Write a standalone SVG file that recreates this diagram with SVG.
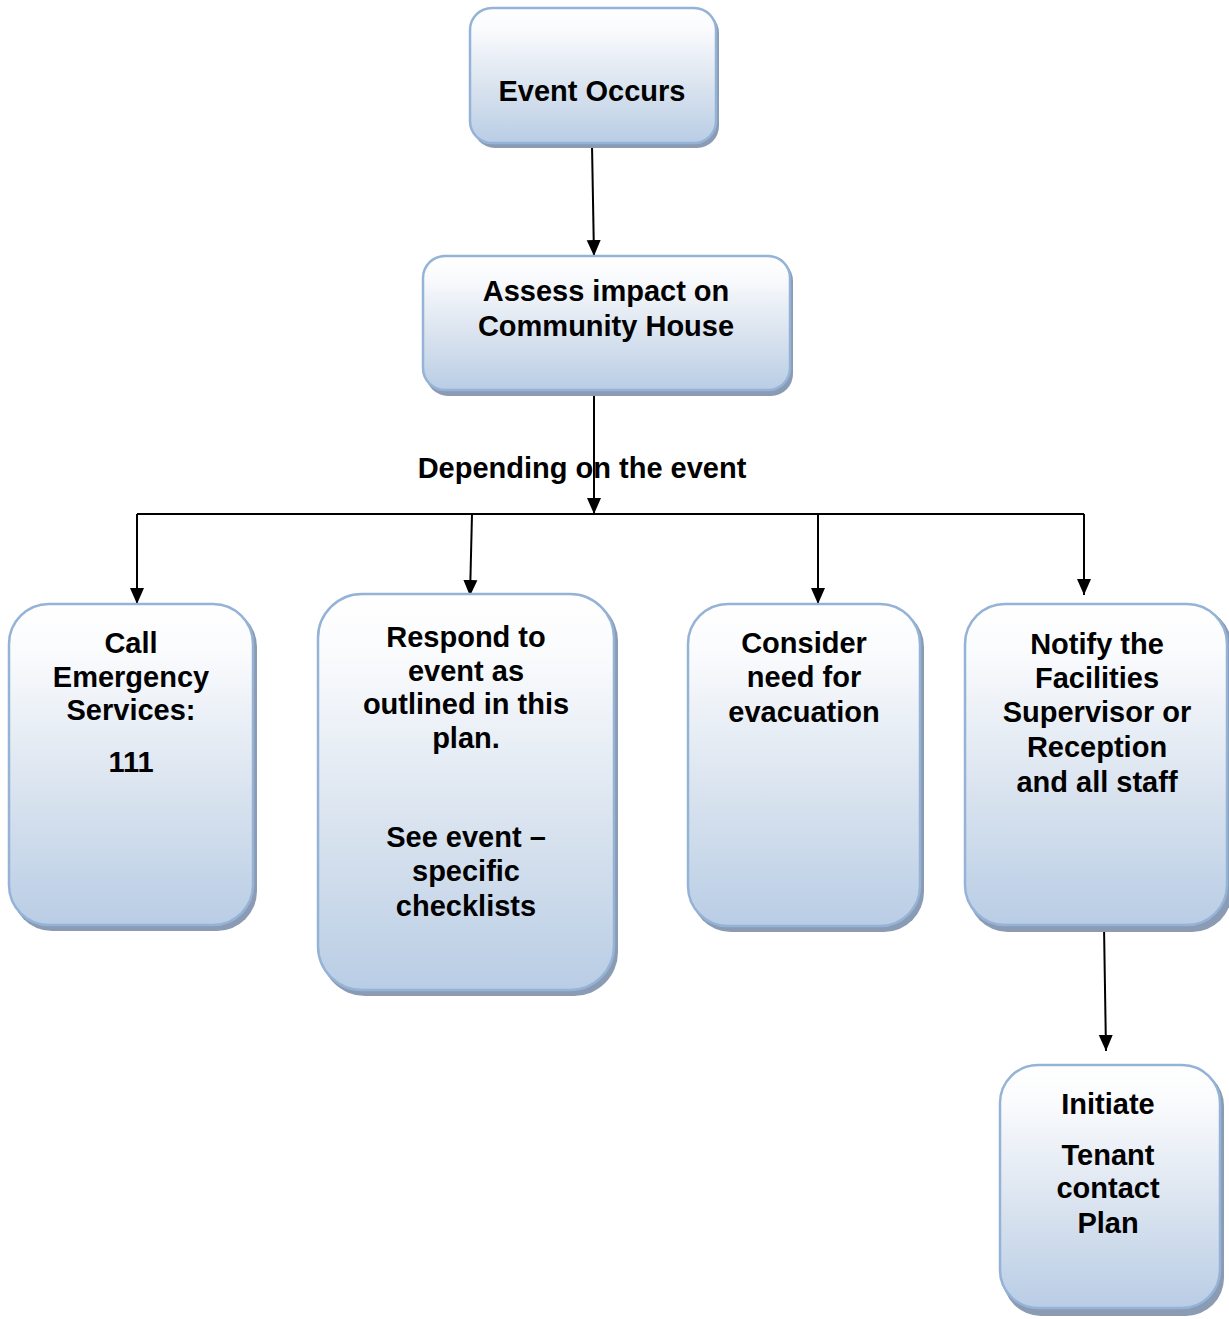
<svg xmlns="http://www.w3.org/2000/svg" width="1229" height="1319" viewBox="0 0 1229 1319">
<defs>
<linearGradient id="g" x1="0" y1="0" x2="0" y2="1">
<stop offset="0" stop-color="#ffffff"/>
<stop offset="0.15" stop-color="#fafbfd"/>
<stop offset="0.55" stop-color="#dce5f0"/>
<stop offset="1" stop-color="#b9cde5"/>
</linearGradient>
<marker id="arr" markerWidth="16" markerHeight="16" refX="16" refY="8" orient="auto" markerUnits="userSpaceOnUse">
<path d="M0,1 L16,8 L0,15 Z" fill="#000"/>
</marker>
</defs>
<style>
.box{fill:url(#g);stroke:#95b3d7;stroke-width:2.5}
.sh{fill:#8a9bb3}
.t{font-family:"Liberation Sans",Arial,sans-serif;font-weight:bold;font-size:29px;fill:#000;text-anchor:middle}
.c{stroke:#000;stroke-width:2;fill:none}
</style>
<g id="connectors">
<line class="c" x1="592" y1="145" x2="594" y2="256" marker-end="url(#arr)"/>
<line class="c" x1="594" y1="390" x2="594" y2="514" marker-end="url(#arr)"/>
<line class="c" x1="137" y1="514" x2="1084" y2="514"/>
<line class="c" x1="137" y1="514" x2="137" y2="604" marker-end="url(#arr)"/>
<line class="c" x1="472" y1="514" x2="470" y2="596" marker-end="url(#arr)"/>
<line class="c" x1="818" y1="514" x2="818" y2="604" marker-end="url(#arr)"/>
<line class="c" x1="1084" y1="514" x2="1084" y2="595" marker-end="url(#arr)"/>
<line class="c" x1="1104" y1="926" x2="1106" y2="1051" marker-end="url(#arr)"/>
</g>
<g id="n-event">
<rect class="sh" x="473" y="11" width="246" height="137" rx="22"/>
<rect class="box" x="470" y="8" width="246" height="135" rx="22"/>
<text class="t" x="592" y="101">Event Occurs</text>
</g>
<g id="n-assess">
<rect class="sh" x="426" y="259" width="367" height="137" rx="22"/>
<rect class="box" x="423" y="256" width="367" height="134" rx="22"/>
<text class="t" x="606" y="301">Assess impact on</text>
<text class="t" x="606" y="336">Community House</text>
</g>
<text class="t" x="582" y="478">Depending on the event</text>
<g id="n-call">
<rect class="sh" x="12" y="607" width="245" height="324" rx="40"/>
<rect class="box" x="9" y="604" width="244" height="321" rx="40"/>
<text class="t" x="131" y="653">Call</text>
<text class="t" x="131" y="687">Emergency</text>
<text class="t" x="131" y="720">Services:</text>
<text class="t" x="131" y="772">111</text>
</g>
<g id="n-respond">
<rect class="sh" x="321" y="597" width="297" height="399" rx="44"/>
<rect class="box" x="318" y="594" width="296" height="396" rx="44"/>
<text class="t" x="466" y="647">Respond to</text>
<text class="t" x="466" y="681">event as</text>
<text class="t" x="466" y="714">outlined in this</text>
<text class="t" x="466" y="748">plan.</text>
<text class="t" x="466" y="847">See event –</text>
<text class="t" x="466" y="881">specific</text>
<text class="t" x="466" y="916">checklists</text>
</g>
<g id="n-consider">
<rect class="sh" x="691" y="607" width="233" height="325" rx="40"/>
<rect class="box" x="688" y="604" width="232" height="322" rx="40"/>
<text class="t" x="804" y="653">Consider</text>
<text class="t" x="804" y="687">need for</text>
<text class="t" x="804" y="722">evacuation</text>
</g>
<g id="n-notify">
<rect class="sh" x="968" y="607" width="264" height="325" rx="40"/>
<rect class="box" x="965" y="604" width="262" height="321" rx="40"/>
<text class="t" x="1097" y="654">Notify the</text>
<text class="t" x="1097" y="688">Facilities</text>
<text class="t" x="1097" y="722">Supervisor or</text>
<text class="t" x="1097" y="757">Reception</text>
<text class="t" x="1097" y="792">and all staff</text>
</g>
<g id="n-initiate">
<rect class="sh" x="1003" y="1068" width="221" height="248" rx="38"/>
<rect class="box" x="1000" y="1065" width="220" height="243" rx="38"/>
<text class="t" x="1108" y="1114">Initiate</text>
<text class="t" x="1108" y="1165">Tenant</text>
<text class="t" x="1108" y="1198">contact</text>
<text class="t" x="1108" y="1233">Plan</text>
</g>
</svg>
